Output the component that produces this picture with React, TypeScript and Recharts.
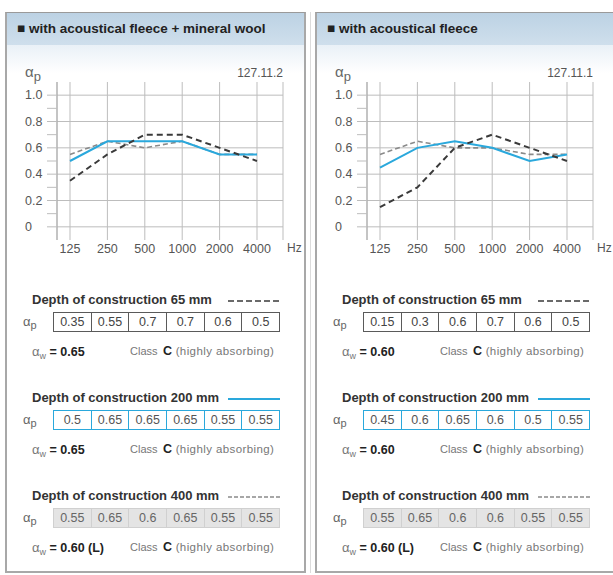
import { LineChart, Line, XAxis, YAxis, CartesianGrid } from 'recharts';

const freqs = ['125', '250', '500', '1000', '2000', '4000'];
const yTicks = [0, 0.1, 0.2, 0.3, 0.4, 0.5, 0.6, 0.7, 0.8, 0.9, 1.0];
const gridTicks = [0, 0.2, 0.4, 0.6, 0.8, 1.0];

const woolD65 = [0.35, 0.55, 0.7, 0.7, 0.6, 0.5];
const woolD200 = [0.5, 0.65, 0.65, 0.65, 0.55, 0.55];
const woolD400 = [0.55, 0.65, 0.6, 0.65, 0.55, 0.55];
const woolWeighted = ['0.65', '0.65', '0.60 (L)'];

const fleeceD65 = [0.15, 0.3, 0.6, 0.7, 0.6, 0.5];
const fleeceD200 = [0.45, 0.6, 0.65, 0.6, 0.5, 0.55];
const fleeceD400 = [0.55, 0.65, 0.6, 0.6, 0.55, 0.55];
const fleeceWeighted = ['0.60', '0.60', '0.60 (L)'];

const depths = ['65', '200', '400'];

const FONT = '"Liberation Sans", Arial, sans-serif';
const DARK = '#3a3a3a';
const CYAN = '#2aa8dc';
const GREY = '#8a8a8a';

const lineStyles = [
  { stroke: DARK, strokeWidth: 2, dash: '6 4' },
  { stroke: CYAN, strokeWidth: 2, dash: undefined },
  { stroke: GREY, strokeWidth: 1.6, dash: '5 3' },
];

const YTick = (props: any) => {
  const { x, y, payload } = props;
  const v = payload.value;
  const major = Math.round(v * 10) % 2 === 0;
  if (!major) return null;
  return (
    <text x={x - 17} y={y} dy={4} textAnchor="start" fontSize={12.5} fill="#555" fontFamily={FONT}>
      {v === 0 ? '0' : v.toFixed(1)}
    </text>
  );
};

function Marker({ idx }: { idx: number }) {
  const s = lineStyles[idx];
  return (
    <svg width={52} height={6} style={{ position: 'absolute', right: 0, top: 6 }}>
      <line x1={0} y1={3} x2={52} y2={3} stroke={s.stroke} strokeWidth={idx === 1 ? 1.8 : 1.4} strokeDasharray={idx === 0 ? '6 3' : idx === 2 ? '4 2' : undefined} />
    </svg>
  );
}

function Panel({ ox, title, code, series, weighted }: { ox: number; title: string; code: string; series: number[][]; weighted: string[] }) {
  const rows = freqs.map((f, i) => ({ hz: f, d65: series[0][i], d200: series[1][i], d400: series[2][i] }));
  const tableStyles = [
    { border: '1px solid #5a5a5a', bg: '#fff', color: '#444' },
    { border: `1px solid ${CYAN}`, bg: '#fff', color: '#555' },
    { border: '1px solid #d0d0d0', bg: '#e4e4e4', color: '#666' },
  ];
  const sectionTops = [301, 399, 497];
  return (
    <>
      <div
        style={{
          position: 'absolute',
          left: ox + 5,
          top: 12,
          width: 301,
          height: 561,
          boxSizing: 'border-box',
          border: '2px solid #a8a8a8',
          borderTop: '1px solid #9a9a9a',
          background: 'linear-gradient(#eaf1f7 33px, #ffffff 60px)',
        }}
      >
        <div
          style={{
            height: 32,
            background: 'linear-gradient(#bcd2e4, #cfdfec)',
            color: '#222',
            fontFamily: FONT,
            fontWeight: 700,
            fontSize: 13.5,
            lineHeight: '32px',
            paddingLeft: 10,
            whiteSpace: 'nowrap',
          }}
        >
          {'\u25A0 ' + title}
        </div>
      </div>

      <div style={{ position: 'absolute', left: ox + 25, top: 63, fontFamily: FONT, color: '#666', fontSize: 15 }}>
        α<span style={{ fontSize: 13, position: 'relative', top: 4 }}>p</span>
      </div>
      <div style={{ position: 'absolute', left: ox + 200, width: 83, top: 66, textAlign: 'right', fontFamily: FONT, fontSize: 12, color: '#555' }}>
        {code}
      </div>
      <div style={{ position: 'absolute', left: ox + 287, top: 241, fontFamily: FONT, fontSize: 12, color: '#555' }}>Hz</div>

      <div style={{ position: 'absolute', left: ox, top: 60 }}>
        <LineChart width={300} height={200} data={rows} margin={{ top: 22, right: 17, bottom: 0, left: 27 }}>
          <CartesianGrid yAxisId="l" stroke="#bdbdbd" strokeWidth={1} horizontalValues={gridTicks} />
          <XAxis
            dataKey="hz"
            interval={0}
            padding={{ left: 13, right: 26 }}
            axisLine={false}
            tickLine={false}
            tickSize={0}
            tickMargin={4}
            height={20}
            tick={{ fontSize: 12.5, fill: '#555', fontFamily: FONT }}
          />
          <YAxis
            yAxisId="l"
            type="number"
            domain={[-0.1, 1.1]}
            ticks={yTicks}
            interval={0}
            allowDataOverflow
            width={30}
            tickSize={10}
            tickMargin={5}
            axisLine={{ stroke: '#aaaaaa' }}
            tickLine={{ stroke: '#bdbdbd' }}
            tick={<YTick />}
          />
          <YAxis yAxisId="r" orientation="right" domain={[-0.1, 1.1]} width={0} tick={false} tickLine={false} axisLine={{ stroke: '#bdbdbd' }} />
          <Line yAxisId="l" type="linear" dataKey="d400" stroke={lineStyles[2].stroke} strokeWidth={lineStyles[2].strokeWidth} strokeDasharray={lineStyles[2].dash} dot={false} isAnimationActive={false} />
          <Line yAxisId="l" type="linear" dataKey="d200" stroke={lineStyles[1].stroke} strokeWidth={lineStyles[1].strokeWidth} dot={false} isAnimationActive={false} />
          <Line yAxisId="l" type="linear" dataKey="d65" stroke={lineStyles[0].stroke} strokeWidth={lineStyles[0].strokeWidth} strokeDasharray={lineStyles[0].dash} dot={false} isAnimationActive={false} />
        </LineChart>
      </div>

      {depths.map((d, k) => {
        const top = sectionTops[k];
        const ts = tableStyles[k];
        return (
          <div key={d}>
            <div style={{ position: 'absolute', left: ox + 32, top: top - 9, width: 248, height: 16, fontFamily: FONT, fontWeight: 700, fontSize: 13, color: '#333', whiteSpace: 'nowrap' }}>
              Depth of construction {d} mm
              <Marker idx={k} />
            </div>
            <div style={{ position: 'absolute', left: ox + 23, top: top + 13, fontFamily: FONT, color: '#666', fontSize: 13 }}>
              α<span style={{ fontSize: 11, position: 'relative', top: 3 }}>p</span>
            </div>
            <div
              style={{
                position: 'absolute',
                left: ox + 53,
                top: top + 11,
                width: 227,
                height: 20,
                boxSizing: 'border-box',
                border: ts.border,
                background: ts.bg,
                display: 'flex',
              }}
            >
              {series[k].map((v, i) => (
                <div
                  key={i}
                  style={{
                    flex: 1,
                    borderLeft: i === 0 ? 'none' : ts.border,
                    textAlign: 'center',
                    fontFamily: FONT,
                    fontSize: 12.5,
                    lineHeight: '18px',
                    color: ts.color,
                  }}
                >
                  {String(v)}
                </div>
              ))}
            </div>
            <div style={{ position: 'absolute', left: ox + 32, top: top + 43, fontFamily: FONT, fontSize: 12.5, color: '#222', whiteSpace: 'nowrap' }}>
              <span style={{ color: '#777', fontSize: 13 }}>α</span>
              <span style={{ color: '#777', fontSize: 9, position: 'relative', top: 3 }}>w</span>
              <span style={{ fontWeight: 700 }}>{' = ' + weighted[k]}</span>
            </div>
            <div style={{ position: 'absolute', left: ox + 130, top: top + 44, fontFamily: FONT, fontSize: 11, color: '#777', whiteSpace: 'nowrap' }}>
              Class
            </div>
            <div style={{ position: 'absolute', left: ox + 163, top: top + 43, fontFamily: FONT, fontSize: 11.5, color: '#777', whiteSpace: 'nowrap', letterSpacing: 0.4 }}>
              <span style={{ fontWeight: 700, fontSize: 12.5, color: '#222', letterSpacing: 0 }}>C</span> (highly absorbing)
            </div>
          </div>
        );
      })}
    </>
  );
}

export default function App() {
  return (
    <div style={{ position: 'absolute', left: 0, top: 0, width: 613, height: 575, overflow: 'hidden', background: '#fff' }}>
      <div style={{ position: 'absolute', left: 310, top: 12, width: 1, height: 561, background: '#dcdcdc' }} />
      <Panel ox={0} title="with acoustical fleece + mineral wool" code="127.11.2" series={[woolD65, woolD200, woolD400]} weighted={woolWeighted} />
      <Panel ox={310} title="with acoustical fleece" code="127.11.1" series={[fleeceD65, fleeceD200, fleeceD400]} weighted={fleeceWeighted} />
    </div>
  );
}
